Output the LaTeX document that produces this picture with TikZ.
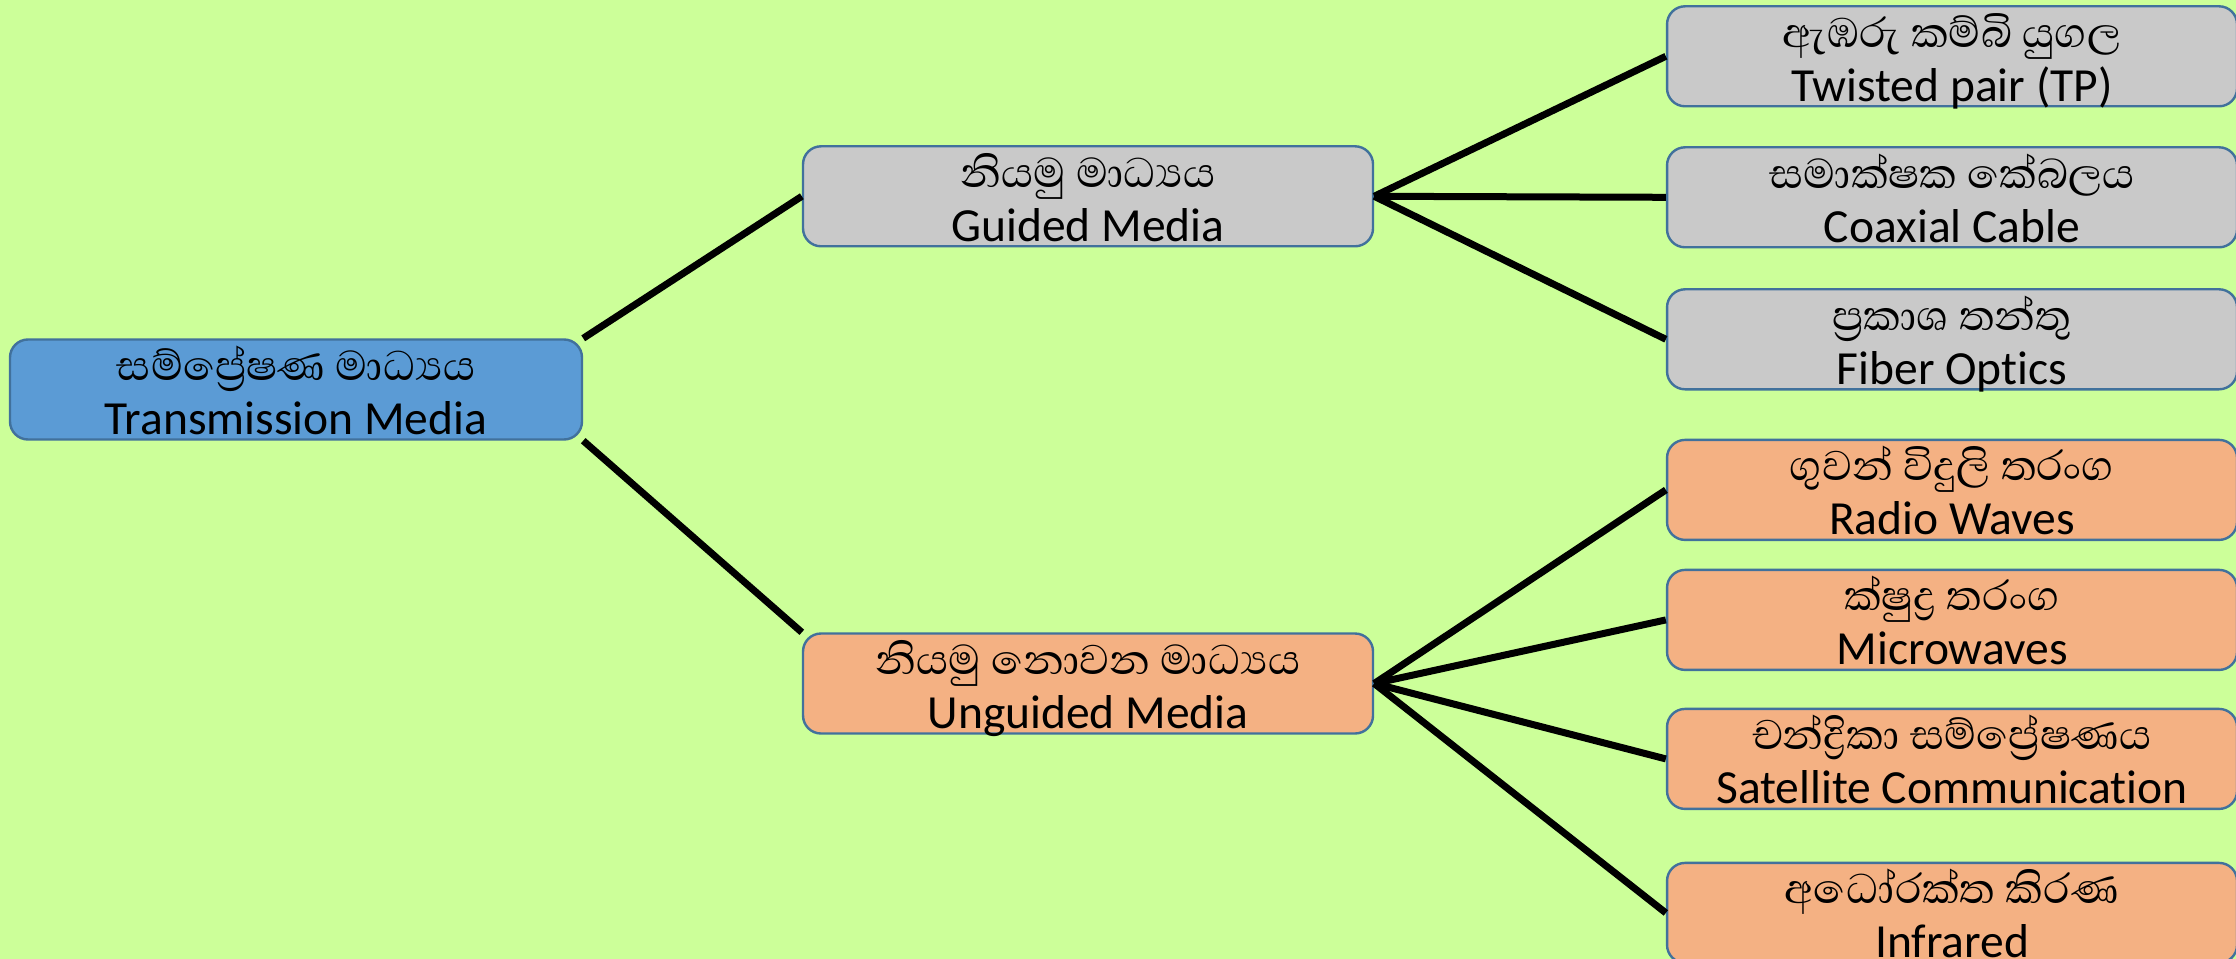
\documentclass[tikz,border=0pt]{standalone}
\usepackage{fontspec}
\setmainfont{Carlito}[Ligatures=NoCommon]
\newfontfamily\sinhalafont[Script=Sinhala, Scale=1.12]{Abhaya Libre}
\usepackage{xcolor}
\usepackage{tikz}
\usetikzlibrary{positioning}
\definecolor{bggreen}{HTML}{CCFF99}
\definecolor{rootblue}{HTML}{5B9BD5}
\definecolor{boxborder}{HTML}{41719C}
\definecolor{guidedgray}{HTML}{C9C9C9}
\definecolor{unguidedorange}{HTML}{F4B183}
\tikzset{media-line/.style={line width=1.75mm}}
\tikzset{media-node/.style={draw=boxborder, line width=0.6mm, inner sep=0, minimum width=142.5mm, minimum height=25mm, rounded corners=4.5mm, align=center, text height=23.75mm, text depth=1.25mm, font=\fontsize{33.8}{38.5}\selectfont}}
\tikzset{media-root/.style={media-node, fill=rootblue, minimum width=143mm}}
\tikzset{media-guided/.style={media-node, fill=guidedgray}}
\tikzset{media-unguided/.style={media-node, fill=unguidedorange}}

\begin{document}
\begin{tikzpicture}[x=0.25mm, y=-0.25mm]
            \useasboundingbox (0,0) rectangle (2236,959);
            \fill[bggreen] (0,0) rectangle (2236,959);

            \node[media-root] (root) at (296,389.5) {{\sinhalafont සම්ප්^^^^200dරේෂණ මාධ්^^^^200dයය}\\Transmission Media};

            \node[media-guided, right=54.65mm of root.north east, yshift=35.5mm] (guided) {{\sinhalafont නියමු මාධ්^^^^200dයය}\\Guided Media};
            \node[media-unguided, below right=47.9mm and 54.65mm of root.south east] (unguided) {{\sinhalafont නියමු නොවන මාධ්^^^^200dයය}\\Unguided Media};

            \node[media-guided, right=72.9mm of guided.east, yshift=35mm] (twisted) {{\sinhalafont ඇඹරු කම්බි යුගල}\\Twisted pair (TP)};
            \node[media-guided, below=9.65mm of twisted] (coaxial) {{\sinhalafont සමාක්ෂක කේබලය}\\Coaxial Cable};
            \node[media-guided, below=9.9mm of coaxial] (fiber) {{\sinhalafont ප්^^^^200dරකාශ තන්තු}\\Fiber Optics};

            \node[media-unguided, right=72.9mm of unguided.east, yshift=48.4mm] (radio) {{\sinhalafont ගුවන් විදුලි තරංග}\\Radio Waves};
            \node[media-unguided, below=6.9mm of radio] (micro) {{\sinhalafont ක්ෂුද්^^^^200dර තරංග}\\Microwaves};
            \node[media-unguided, below=9.15mm of micro] (satellite) {{\sinhalafont චන්ද්^^^^200dරිකා සම්ප්^^^^200dරේෂණය}\\Satellite Communication};
            \node[media-unguided, below=12.9mm of satellite] (infrared) {{\sinhalafont අධෝරක්ත කිරණ}\\Infrared};

            \draw[media-line] (root.north east) -- (guided.west);
            \draw[media-line] (root.south east) -- (unguided.north west);

            \draw[media-line] (guided.east) -- (twisted.west);
            \draw[media-line] (guided.east) -- (coaxial.west);
            \draw[media-line] (guided.east) -- (fiber.west);

            \draw[media-line] (unguided.east) -- (radio.west);
            \draw[media-line] (unguided.east) -- (micro.west);
            \draw[media-line] (unguided.east) -- (satellite.west);
            \draw[media-line] (unguided.east) -- (infrared.west);

        \end{tikzpicture}
\end{document}
